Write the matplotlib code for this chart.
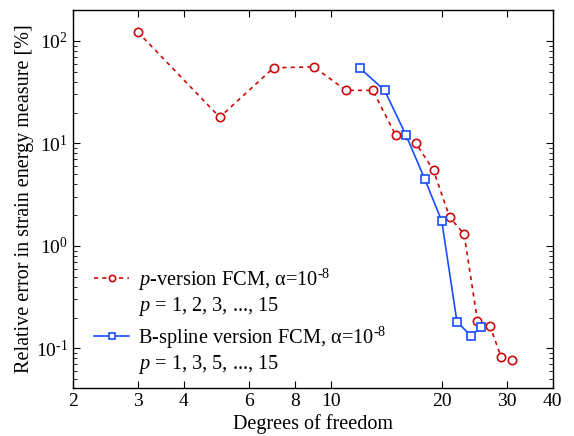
import numpy as np
import matplotlib
matplotlib.use('Agg')
import matplotlib.pyplot as plt
from matplotlib.lines import Line2D
from matplotlib.ticker import FixedLocator, NullLocator, FixedFormatter, LogLocator

plt.rcParams['font.family'] = ['Liberation Serif', 'DejaVu Serif']
plt.rcParams['mathtext.fontset'] = 'custom'
plt.rcParams['mathtext.rm'] = 'Liberation Serif'
plt.rcParams['mathtext.it'] = 'Liberation Serif:italic'

# p-version FCM
p_dof = [3, 5, 7, 9, 11, 13, 15, 17, 19, 21, 23, 25, 27, 29, 31]
p_err = [122, 18.0, 54.6, 55.8, 32.9, 32.9, 12.05, 10.1, 5.46, 1.91, 1.30,
         0.185, 0.166, 0.082, 0.0773]

# B-spline version FCM
b_dof = [12, 14, 16, 18, 20, 22, 24, 25.6]
b_err = [54.2, 32.9, 12.05, 4.46, 1.75, 0.181, 0.133, 0.161]

x_ticks = [2, 3, 4, 6, 8, 10, 20, 30, 40]
x_labels = ['2', '3', '4', '6', '8', '10', '20', '30', '40']
y_ticks = [0.1, 1, 10, 100]
y_labels = [r'10$^{\text{-1}}$', r'10$^{\text{0}}$', r'10$^{\text{1}}$', r'10$^{\text{2}}$']

red = '#cc0a0a'
blue = '#1a4cff'

fig = plt.figure(figsize=(5.74, 4.36), dpi=100)
ax = fig.add_axes([0.127, 0.110, 0.836, 0.867])

ax.plot(p_dof, p_err, color=red, linestyle=(0, (2.5, 2.5)), linewidth=1.2,
        marker='o', markersize=6, markerfacecolor='white', markeredgecolor=red,
        markeredgewidth=1.2)
ax.plot(b_dof, b_err, color=blue, linestyle='-', linewidth=1.2,
        marker='s', markersize=5.5, markerfacecolor='white', markeredgecolor=blue,
        markeredgewidth=1.2)

ax.set_xscale('log')
ax.set_yscale('log')
ax.set_xlim(2, 40)
ax.set_ylim(0.041, 200)

ax.xaxis.set_major_locator(FixedLocator(x_ticks))
ax.xaxis.set_major_formatter(FixedFormatter(x_labels))
ax.xaxis.set_minor_locator(NullLocator())
ax.yaxis.set_major_locator(FixedLocator(y_ticks))
ax.yaxis.set_major_formatter(FixedFormatter(y_labels))
ax.yaxis.set_minor_locator(LogLocator(base=10, subs=np.arange(2, 10), numticks=10))

ax.tick_params(which='both', direction='in', top=True, right=True, labelsize=14)
ax.tick_params(which='major', length=5, width=0.8)
ax.tick_params(which='minor', length=3, width=0.6)
for s in ax.spines.values():
    s.set_linewidth(1.0)

ax.set_xlabel('Degrees of freedom', fontsize=14.5)
ax.set_ylabel('Relative error in strain energy measure [%]', fontsize=14.5)
ax.xaxis.set_label_coords(0.5, -0.068)
ax.yaxis.set_label_coords(-0.082, 0.5)

blank = Line2D([], [], linestyle='none')
h_p = Line2D([], [], color=red, linestyle=(0, (2.5, 2.5)), linewidth=1.2,
             marker='o', markersize=4.5, markerfacecolor='white',
             markeredgecolor=red, markeredgewidth=1.2)
h_b = Line2D([], [], color=blue, linestyle='-', linewidth=1.2,
             marker='s', markersize=4.5, markerfacecolor='white',
             markeredgecolor=blue, markeredgewidth=1.2)

leg_kw = dict(frameon=False, fontsize=14.7, handlelength=1.7, handletextpad=0.45,
              labelspacing=0.1, borderpad=0, borderaxespad=0, loc='upper left')
leg1 = ax.legend([h_p, blank],
                 [r'$p$-version FCM, α=10$^{\text{-8}}$', r'$p$ = 1, 2, 3, ..., 15'],
                 bbox_to_anchor=(0.045, 0.322), **leg_kw)
ax.add_artist(leg1)
ax.legend([h_b, blank],
          [r'B-spline version FCM, α=10$^{\text{-8}}$', r'$p$ = 1, 3, 5, ..., 15'],
          bbox_to_anchor=(0.045, 0.168), **leg_kw)

fig.savefig('out.png', dpi=100)
